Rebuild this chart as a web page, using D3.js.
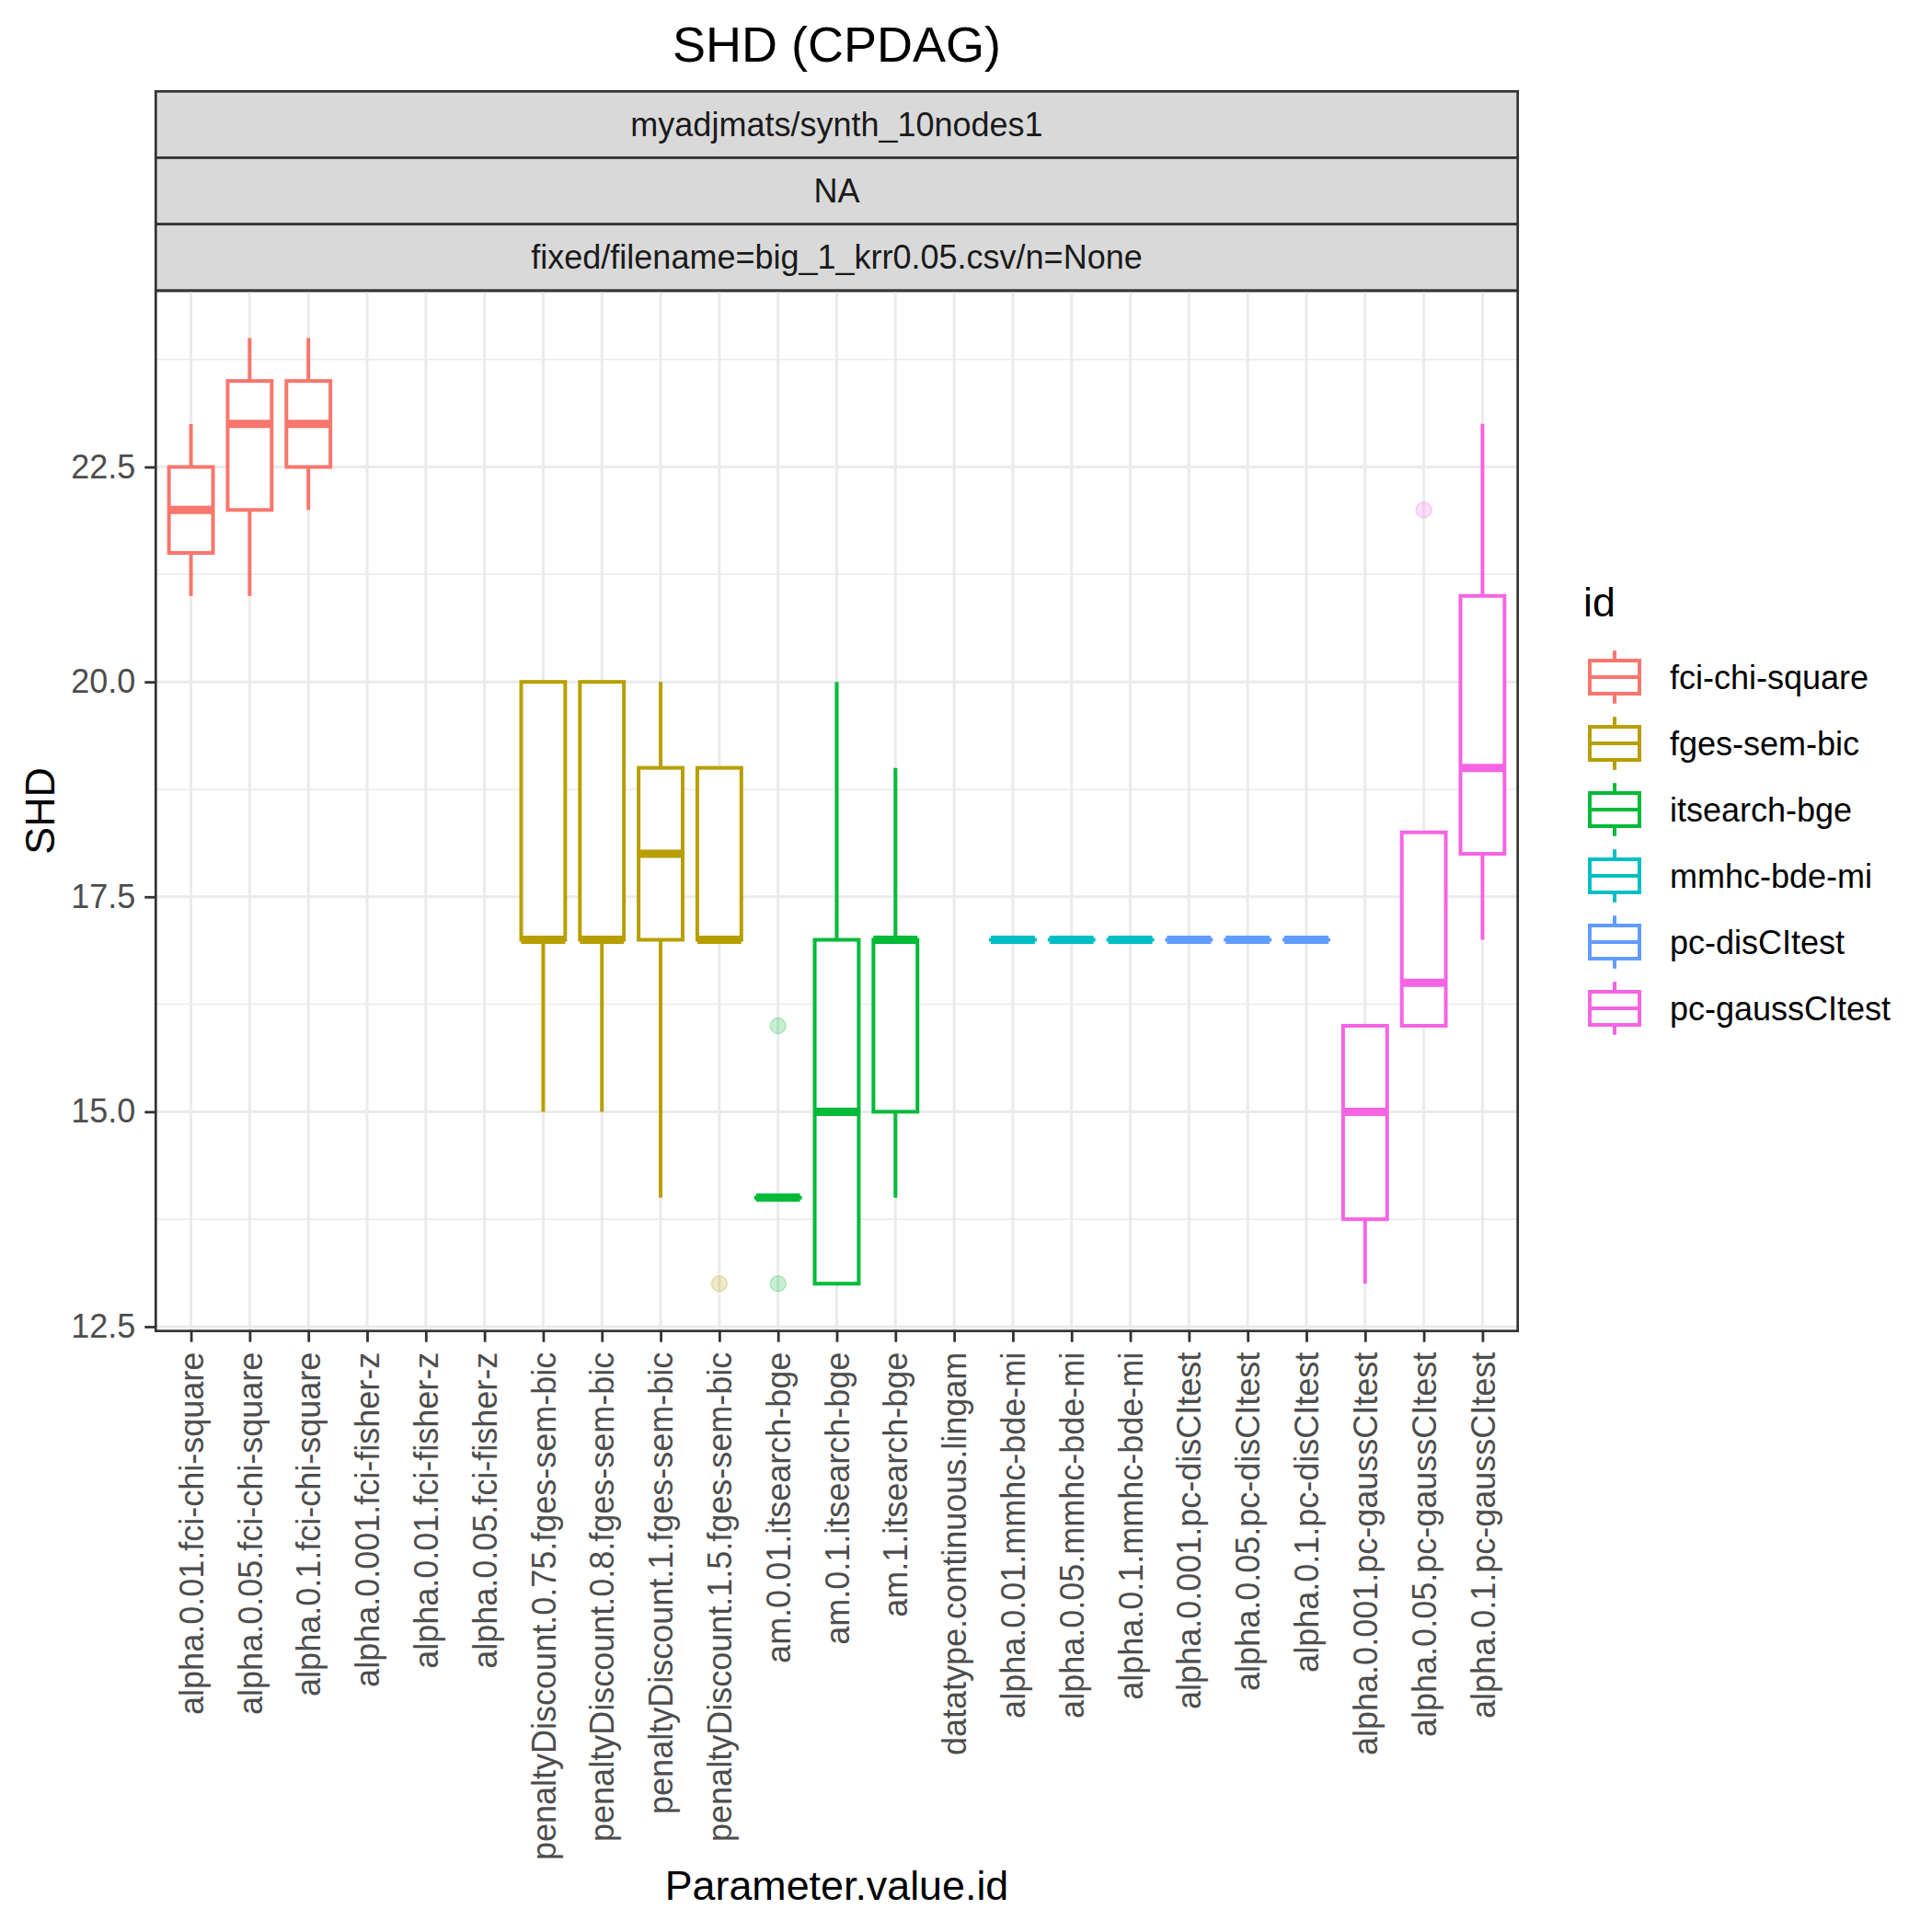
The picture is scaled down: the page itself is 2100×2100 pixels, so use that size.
<!DOCTYPE html>
<html>
<head>
<meta charset="utf-8">
<script src="https://cdn.jsdelivr.net/npm/d3@7"></script>
<style>
  body { margin: 0; background: #fff; }
  text { font-family: "Liberation Sans", Arial, Helvetica, sans-serif; }
</style>
</head>
<body>
<div id="chart"></div>
<script>
// categories on the x axis and the id that each one belongs to
var categories = [
  "alpha.0.01.fci-chi-square", "alpha.0.05.fci-chi-square", "alpha.0.1.fci-chi-square",
  "alpha.0.001.fci-fisher-z", "alpha.0.01.fci-fisher-z", "alpha.0.05.fci-fisher-z",
  "penaltyDiscount.0.75.fges-sem-bic", "penaltyDiscount.0.8.fges-sem-bic",
  "penaltyDiscount.1.fges-sem-bic", "penaltyDiscount.1.5.fges-sem-bic",
  "am.0.01.itsearch-bge", "am.0.1.itsearch-bge", "am.1.itsearch-bge",
  "datatype.continuous.lingam",
  "alpha.0.01.mmhc-bde-mi", "alpha.0.05.mmhc-bde-mi", "alpha.0.1.mmhc-bde-mi",
  "alpha.0.001.pc-disCItest", "alpha.0.05.pc-disCItest", "alpha.0.1.pc-disCItest",
  "alpha.0.001.pc-gaussCItest", "alpha.0.05.pc-gaussCItest", "alpha.0.1.pc-gaussCItest"
];
var catIds = [
  "fci-chi-square", "fci-chi-square", "fci-chi-square",
  null, null, null,
  "fges-sem-bic", "fges-sem-bic", "fges-sem-bic", "fges-sem-bic",
  "itsearch-bge", "itsearch-bge", "itsearch-bge",
  null,
  "mmhc-bde-mi", "mmhc-bde-mi", "mmhc-bde-mi",
  "pc-disCItest", "pc-disCItest", "pc-disCItest",
  "pc-gaussCItest", "pc-gaussCItest", "pc-gaussCItest"
];

// boxplot statistics (null = no box)
var lowerWhisker = [21, 21, 22, null, null, null, 15, 15, 14, 17, 14, 13, 14, null, 17, 17, 17, 17, 17, 17, 13, 16, 17];
var q1           = [21.5, 22, 22.5, null, null, null, 17, 17, 17, 17, 14, 13, 15, null, 17, 17, 17, 17, 17, 17, 13.75, 16, 18];
var medians      = [22, 23, 23, null, null, null, 17, 17, 18, 17, 14, 15, 17, null, 17, 17, 17, 17, 17, 17, 15, 16.5, 19];
var q3           = [22.5, 23.5, 23.5, null, null, null, 20, 20, 19, 19, 14, 17, 17, null, 17, 17, 17, 17, 17, 17, 16, 18.25, 21];
var upperWhisker = [23, 24, 24, null, null, null, 20, 20, 20, 19, 14, 20, 19, null, 17, 17, 17, 17, 17, 17, 16, 18.25, 23];

// outliers: category index and value
var outlierCat = [9, 10, 10, 21];
var outlierVal = [13, 16, 13, 22];

var ids = ["fci-chi-square", "fges-sem-bic", "itsearch-bge", "mmhc-bde-mi", "pc-disCItest", "pc-gaussCItest"];
var idColors = ["#F8766D", "#B79F00", "#00BA38", "#00BFC4", "#619CFF", "#F564E3"];

var yMajor = [12.5, 15, 17.5, 20, 22.5];
var yMinor = [13.75, 16.25, 18.75, 21.25, 23.75];

var stripLabels = ["myadjmats/synth_10nodes1", "NA", "fixed/filename=big_1_krr0.05.csv/n=None"];

var width = 2100, height = 2100;
var pLeft = 169.3, pRight = 1649.7, pTop = 316, pBottom = 1446.7;
var stripTop = 99.3, stripH = 72.2;

var svg = d3.select("#chart").append("svg")
  .attr("width", width).attr("height", height);
svg.append("rect").attr("width", width).attr("height", height).attr("fill", "#fff");

var color = d3.scaleOrdinal().domain(ids).range(idColors);
var xScale = d3.scalePoint().domain(categories).range([pLeft, pRight]).padding(0.6);
var yScale = d3.scaleLinear().domain([12.45, 24.55]).range([pBottom, pTop]);
var step = xScale.step();
var boxW = step * 0.75;

// title
svg.append("text").attr("x", (pLeft + pRight) / 2).attr("y", 67)
  .attr("text-anchor", "middle").attr("font-size", 54).attr("fill", "#000")
  .text("SHD (CPDAG)");

// strips
stripLabels.forEach(function(s, i) {
  var y0 = stripTop + i * stripH;
  svg.append("rect").attr("x", pLeft).attr("y", y0)
    .attr("width", pRight - pLeft).attr("height", stripH)
    .attr("fill", "#D9D9D9").attr("stroke", "#333333").attr("stroke-width", 2.7);
  svg.append("text").attr("x", (pLeft + pRight) / 2).attr("y", y0 + stripH / 2)
    .attr("dy", "0.35em").attr("text-anchor", "middle")
    .attr("font-size", 36).attr("fill", "#1A1A1A").text(s);
});

// grid
var grid = svg.append("g");
grid.selectAll(".minor").data(yMinor).enter().append("line")
  .attr("x1", pLeft).attr("x2", pRight)
  .attr("y1", function(d) { return yScale(d); }).attr("y2", function(d) { return yScale(d); })
  .attr("stroke", "#EBEBEB").attr("stroke-width", 1.5);
grid.selectAll(".major").data(yMajor).enter().append("line")
  .attr("x1", pLeft).attr("x2", pRight)
  .attr("y1", function(d) { return yScale(d); }).attr("y2", function(d) { return yScale(d); })
  .attr("stroke", "#EBEBEB").attr("stroke-width", 3);
grid.selectAll(".vx").data(categories).enter().append("line")
  .attr("x1", function(d) { return xScale(d); }).attr("x2", function(d) { return xScale(d); })
  .attr("y1", pTop).attr("y2", pBottom)
  .attr("stroke", "#EBEBEB").attr("stroke-width", 3);

// boxes
var boxes = categories.map(function(c, i) {
  return { cat: c, id: catIds[i], lo: lowerWhisker[i], q1: q1[i], med: medians[i], q3: q3[i], hi: upperWhisker[i] };
}).filter(function(d) { return d.id !== null; });

var bx = svg.append("g").selectAll("g").data(boxes).enter().append("g");
bx.append("line")
  .attr("x1", function(d) { return xScale(d.cat); }).attr("x2", function(d) { return xScale(d.cat); })
  .attr("y1", function(d) { return yScale(d.hi); }).attr("y2", function(d) { return yScale(d.q3); })
  .attr("stroke", function(d) { return color(d.id); }).attr("stroke-width", 4);
bx.append("line")
  .attr("x1", function(d) { return xScale(d.cat); }).attr("x2", function(d) { return xScale(d.cat); })
  .attr("y1", function(d) { return yScale(d.q1); }).attr("y2", function(d) { return yScale(d.lo); })
  .attr("stroke", function(d) { return color(d.id); }).attr("stroke-width", 4);
bx.append("rect")
  .attr("x", function(d) { return xScale(d.cat) - boxW / 2; })
  .attr("y", function(d) { return yScale(d.q3); })
  .attr("width", boxW)
  .attr("height", function(d) { return Math.max(0.01, yScale(d.q1) - yScale(d.q3)); })
  .attr("fill", "#fff").attr("stroke", function(d) { return color(d.id); }).attr("stroke-width", 4);
bx.append("line")
  .attr("x1", function(d) { return xScale(d.cat) - boxW / 2; })
  .attr("x2", function(d) { return xScale(d.cat) + boxW / 2; })
  .attr("y1", function(d) { return yScale(d.med); }).attr("y2", function(d) { return yScale(d.med); })
  .attr("stroke", function(d) { return color(d.id); }).attr("stroke-width", 9);

// outliers
svg.append("g").selectAll("circle").data(outlierCat).enter().append("circle")
  .attr("cx", function(d) { return xScale(categories[d]); })
  .attr("cy", function(d, i) { return yScale(outlierVal[i]); })
  .attr("r", 8.5)
  .attr("fill", function(d) { return color(catIds[d]); }).attr("fill-opacity", 0.22)
  .attr("stroke", function(d) { return color(catIds[d]); }).attr("stroke-opacity", 0.25)
  .attr("stroke-width", 1.5);

// panel border
svg.append("rect").attr("x", pLeft).attr("y", pTop)
  .attr("width", pRight - pLeft).attr("height", pBottom - pTop)
  .attr("fill", "none").attr("stroke", "#333333").attr("stroke-width", 2.7);

// y axis
var yAxis = d3.axisLeft(yScale).tickValues(yMajor).tickFormat(d3.format(".1f"))
  .tickSize(12).tickPadding(10);
var gy = svg.append("g").attr("transform", "translate(" + pLeft + ",0)").call(yAxis);
gy.select(".domain").remove();
gy.selectAll("line").attr("stroke", "#333333").attr("stroke-width", 2.8);
gy.selectAll("text").attr("font-size", 36).attr("fill", "#4D4D4D")
  .attr("font-family", "Liberation Sans, Arial, sans-serif");

// x axis
var xAxis = d3.axisBottom(xScale).tickSize(12).tickPadding(0);
var gx = svg.append("g").attr("transform", "translate(0," + pBottom + ")").call(xAxis);
gx.select(".domain").remove();
gx.selectAll("line").attr("stroke", "#333333").attr("stroke-width", 2.8);
gx.selectAll("text")
  .attr("font-size", 36).attr("fill", "#4D4D4D")
  .attr("font-family", "Liberation Sans, Arial, sans-serif")
  .attr("text-anchor", "end")
  .attr("transform", "translate(0,23) rotate(-90)")
  .attr("x", 0).attr("y", 0).attr("dy", "0.35em");

// axis titles
svg.append("text").attr("x", (pLeft + pRight) / 2).attr("y", 2065)
  .attr("text-anchor", "middle").attr("font-size", 44.8).attr("fill", "#000")
  .text("Parameter.value.id");
svg.append("text").attr("transform", "translate(59," + (pTop + pBottom) / 2 + ") rotate(-90)")
  .attr("text-anchor", "middle").attr("font-size", 44.8).attr("fill", "#000")
  .text("SHD");

// legend
var lg = svg.append("g");
lg.append("text").attr("x", 1721).attr("y", 670).attr("font-size", 44.8).attr("fill", "#000").text("id");
var keyH = 72, keyL = 1719, keyTop = 700;
var items = lg.selectAll(".key").data(ids).enter().append("g")
  .attr("transform", function(d, i) { return "translate(" + keyL + "," + (keyTop + i * keyH) + ")"; });
items.append("line").attr("x1", keyH / 2).attr("x2", keyH / 2)
  .attr("y1", keyH * 0.1).attr("y2", keyH * 0.25)
  .attr("stroke", function(d) { return color(d); }).attr("stroke-width", 4);
items.append("line").attr("x1", keyH / 2).attr("x2", keyH / 2)
  .attr("y1", keyH * 0.75).attr("y2", keyH * 0.9)
  .attr("stroke", function(d) { return color(d); }).attr("stroke-width", 4);
items.append("rect").attr("x", keyH * 0.125).attr("y", keyH * 0.25)
  .attr("width", keyH * 0.75).attr("height", keyH * 0.5)
  .attr("fill", "#fff").attr("stroke", function(d) { return color(d); }).attr("stroke-width", 4);
items.append("line").attr("x1", keyH * 0.125).attr("x2", keyH * 0.875)
  .attr("y1", keyH / 2).attr("y2", keyH / 2)
  .attr("stroke", function(d) { return color(d); }).attr("stroke-width", 4);
items.append("text").attr("x", 1815 - keyL).attr("y", keyH / 2).attr("dy", "0.35em")
  .attr("font-size", 36).attr("fill", "#000").text(function(d) { return d; });
</script>
</body>
</html>
